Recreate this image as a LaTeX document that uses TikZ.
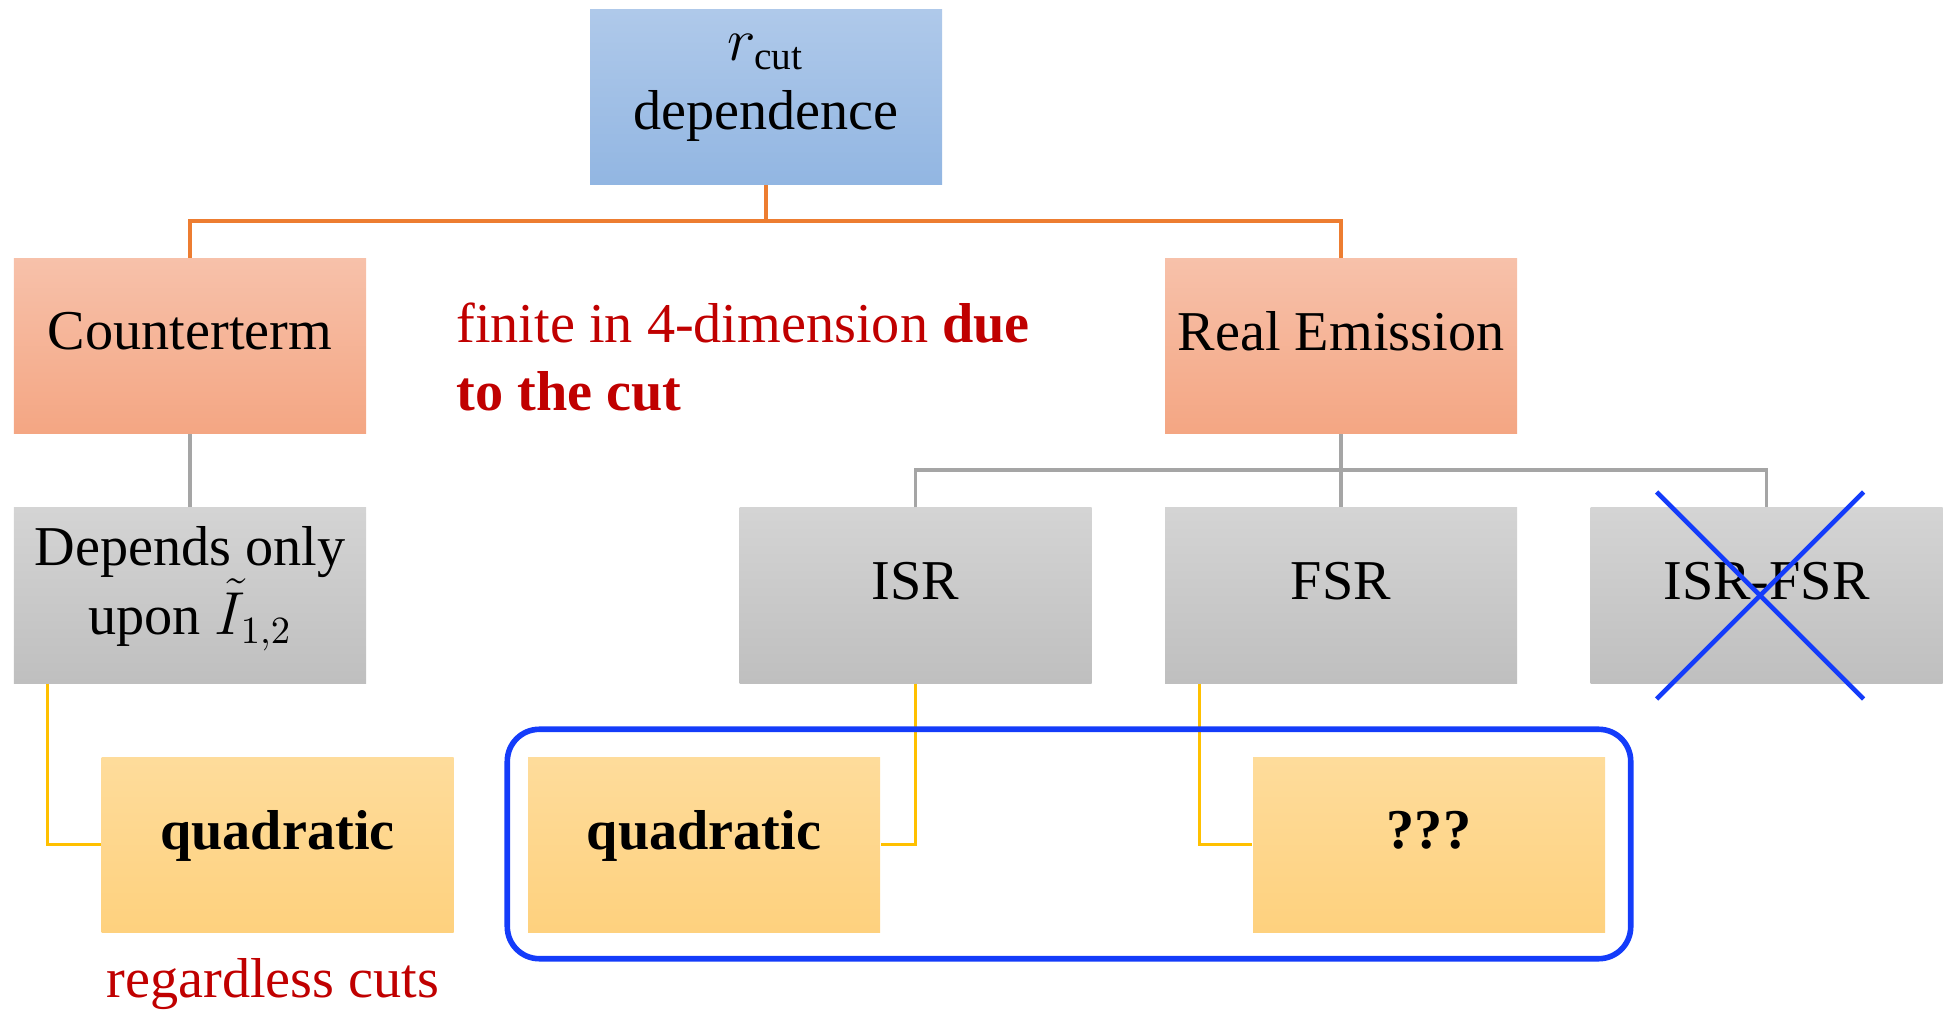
\documentclass[tikz,border=0pt]{standalone}
\usepackage{amsmath, amssymb}
\usepackage{fontspec}
\setmainfont{Liberation Serif}
\usetikzlibrary{calc}

\definecolor{blueTop}{RGB}{175,201,234}
\definecolor{blueBot}{RGB}{146,182,226}
\definecolor{orTop}{RGB}{247,193,170}
\definecolor{orBot}{RGB}{244,166,131}
\definecolor{grTop}{RGB}{212,212,212}
\definecolor{grBot}{RGB}{191,191,191}
\definecolor{yeTop}{RGB}{254,220,155}
\definecolor{yeBot}{RGB}{254,209,126}
\definecolor{orLine}{RGB}{237,125,49}
\definecolor{grLine}{RGB}{165,165,165}
\definecolor{yeLine}{RGB}{255,192,0}
\definecolor{darkred}{RGB}{192,0,0}
\definecolor{markblue}{RGB}{20,60,250}

\begin{document}
\begin{tikzpicture}[
  every node/.style={font=\fontsize{16}{19.5}\selectfont},
  box/.style={rectangle, minimum width=3.52cm, minimum height=1.75cm, align=center, inner sep=2pt,
    execute at end node={\rule[-0.3cm]{0pt}{0pt}}},
  bluebox/.style={box, top color=blueTop, bottom color=blueBot},
  orbox/.style={box, top color=orTop, bottom color=orBot},
  grbox/.style={box, top color=grTop, bottom color=grBot},
  yebox/.style={box, top color=yeTop, bottom color=yeBot},
  orline/.style={draw=orLine, line width=1pt},
  grline/.style={draw=grLine, line width=1pt},
  yeline/.style={draw=yeLine, line width=1pt},
  note/.style={text=darkred}
]
  \useasboundingbox (0,0) rectangle (19.46,-10.14);

  \node[bluebox] (top) at (7.66,-0.97) {$r_{\mathrm{cut}}$\\dependence};
  \node[orbox] (counter) at (1.90,-3.46) {Counterterm};
  \node[orbox] (real) at (13.41,-3.46) {Real Emission};
  \node[grbox] (depends) at (1.90,-5.955) {Depends only\\upon $\tilde{I}_{1,2}$};
  \node[grbox] (isr) at (9.155,-5.955) {ISR};
  \node[grbox] (fsr) at (13.41,-5.955) {FSR};
  \node[grbox] (isrfsr) at (17.665,-5.955) {ISR-FSR};
  \node[yebox] (quadA) at (2.775,-8.445) {\textbf{quadratic}};
  \node[yebox] (quadB) at (7.04,-8.445) {\textbf{quadratic}};
  \node[yebox] (unknown) at (14.29,-8.445) {\textbf{???}};

  \node[note, anchor=west, align=left] (finite) at (4.44,-3.57)
    {finite in 4-dimension \textbf{due}\\\textbf{to the cut}};
  \node[note, anchor=base] (regardless) at (2.73,-9.97) {regardless cuts};

  \coordinate (tb) at (7.66,-2.21);
  \coordinate (rb) at (13.41,-4.70);
  \draw[orline] (top.south) -- (tb);
  \draw[orline] (counter.north) |- (tb) -| (real.north);
  \draw[grline] (counter.south) -- (depends.north);
  \draw[grline] (real.south) -- (fsr.north);
  \draw[grline] (isr.north) |- (rb) -| (isrfsr.north);
  \draw[yeline] ($(depends.south west)+(0.34,0)$) |- (quadA.west);
  \draw[yeline] (isr.south) |- (quadB.east);
  \draw[yeline] ($(fsr.south west)+(0.35,0)$) |- (unknown.west);

  \draw[markblue, line width=1.6pt, rounded corners=0.32cm]
    ($(quadB.north west)+(-0.2,0.27)$) rectangle ($(unknown.south east)+(0.25,-0.26)$);
  \draw[markblue, line width=1.3pt] ($(isrfsr)+(-1.1,1.035)$) -- ($(isrfsr)+(0.97,-1.035)$);
  \draw[markblue, line width=1.3pt] ($(isrfsr)+(0.97,1.035)$) -- ($(isrfsr)+(-1.1,-1.035)$);
\end{tikzpicture}
\end{document}
